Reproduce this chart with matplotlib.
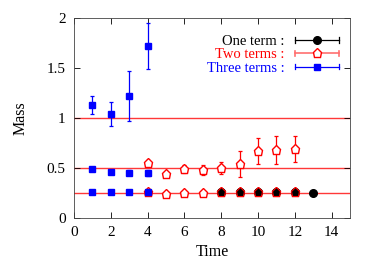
import matplotlib
matplotlib.use('Agg')
import matplotlib.pyplot as plt
from matplotlib.lines import Line2D
from matplotlib.legend_handler import HandlerBase
from matplotlib.ticker import FormatStrFormatter

plt.rcParams['font.family'] = ['Liberation Serif', 'DejaVu Serif']

# one term fit
t_one = [8, 9, 10, 11, 12, 13]
m_one = [0.26, 0.26, 0.258, 0.257, 0.256, 0.253]
e_one = [0.005, 0.005, 0.005, 0.005, 0.005, 0.005]

# two term fit: ground and first excited
t_two0 = [4, 5, 6, 7, 8, 9, 10, 11, 12]
m_two0 = [0.255, 0.24, 0.25, 0.25, 0.257, 0.257, 0.257, 0.256, 0.255]
e_two0 = [0.01, 0.008, 0.006, 0.006, 0.006, 0.006, 0.006, 0.006, 0.006]
t_two1 = [4, 5, 6, 7, 8, 9, 10, 11, 12]
m_two1 = [0.547, 0.437, 0.49, 0.48, 0.503, 0.537, 0.673, 0.68, 0.69]
e_two1 = [0.03, 0.015, 0.04, 0.05, 0.06, 0.13, 0.13, 0.14, 0.13]

# three term fit: three states
t_three = [1, 2, 3, 4]
m_three0 = [0.255, 0.255, 0.255, 0.255]
e_three0 = [0.005, 0.005, 0.005, 0.005]
m_three1 = [0.49, 0.465, 0.455, 0.45]
e_three1 = [0.015, 0.02, 0.025, 0.03]
m_three2 = [1.13, 1.04, 1.22, 1.72]
e_three2 = [0.09, 0.12, 0.25, 0.23]

ref_levels = [0.25, 0.5, 1.0]


class GnuplotKey(HandlerBase):
    # horizontal line with end caps and the marker in the middle
    def create_artists(self, legend, orig, xd, yd, width, height, fontsize, trans):
        y = yd + height / 2
        c = orig.get_color()
        lw = orig.get_linewidth()
        line = Line2D([xd, xd + width], [y, y], color=c, lw=lw, transform=trans)
        cap1 = Line2D([xd, xd], [y - 2, y + 2], color=c, lw=lw, transform=trans)
        cap2 = Line2D([xd + width, xd + width], [y - 2, y + 2], color=c, lw=lw,
                      transform=trans)
        mk = Line2D([xd + width / 2], [y], ls='none', marker=orig.get_marker(),
                    ms=orig.get_markersize(), mfc=orig.get_markerfacecolor(),
                    mec=orig.get_markeredgecolor(), transform=trans)
        return [line, cap1, cap2, mk]


fig = plt.figure(figsize=(3.74, 2.62), dpi=100)
ax = fig.add_axes([0.198, 0.168, 0.738, 0.763])

for lv in ref_levels:
    ax.axhline(lv, color='#ff3838', lw=1.0, zorder=1)

eb = dict(ls='none', elinewidth=0.9, capsize=1.6, capthick=0.9)
ax.errorbar(t_two0, m_two0, yerr=e_two0, color='red', marker='p', ms=6.5,
            mfc='white', mec='red', zorder=2, **eb)
ax.errorbar(t_two1, m_two1, yerr=e_two1, color='red', marker='p', ms=6.5,
            mfc='white', mec='red', zorder=2, **eb)
ax.errorbar(t_one, m_one, yerr=e_one, color='black', marker='o', ms=5.5,
            zorder=3, **eb)
# red open pentagons show on top of the black dots where they overlap
ax.plot(t_two0[4:], m_two0[4:], ls='none', marker='p', ms=6.5, mfc='none',
        mec='red', mew=0.8, zorder=4)
for m, e in [(m_three0, e_three0), (m_three1, e_three1), (m_three2, e_three2)]:
    ax.errorbar(t_three, m, yerr=e, color='blue', marker='s', ms=5,
                zorder=5, **eb)

ax.set_xlim(0, 15)
ax.set_ylim(0, 2)
ax.set_xticks(range(0, 15, 2))
ax.set_yticks([0, 0.5, 1, 1.5, 2])
ax.yaxis.set_major_formatter(FormatStrFormatter('%g'))
ax.tick_params(direction='in', top=True, right=True, labelsize=11, length=4,
               width=0.6, pad=6)
for s in ax.spines.values():
    s.set_linewidth(0.6)
    s.set_color('#444444')
ax.set_xlabel('Time', fontsize=11.5, labelpad=3.5)
ax.set_ylabel('Mass', fontsize=11.5, labelpad=13)

handles = [
    Line2D([], [], color='black', marker='o', ms=5.5, lw=0.9),
    Line2D([], [], color='#ff7070', marker='p', ms=6.5, mfc='white', mec='red', lw=1.2),
    Line2D([], [], color='blue', marker='s', ms=5, lw=0.9),
]
labels = ['One term :', 'Two terms :', 'Three terms :']
leg = ax.legend(handles, labels, loc='upper right', bbox_to_anchor=(1.0, 0.97),
                frameon=False, fontsize=10.5,
                markerfirst=False, handlelength=3.0, handletextpad=0.75,
                labelspacing=0.0, borderaxespad=0.35,
                handler_map={Line2D: GnuplotKey()})
for txt, c in zip(leg.get_texts(), ['black', 'red', 'blue']):
    txt.set_color(c)

fig.savefig('out.png', dpi=100)
